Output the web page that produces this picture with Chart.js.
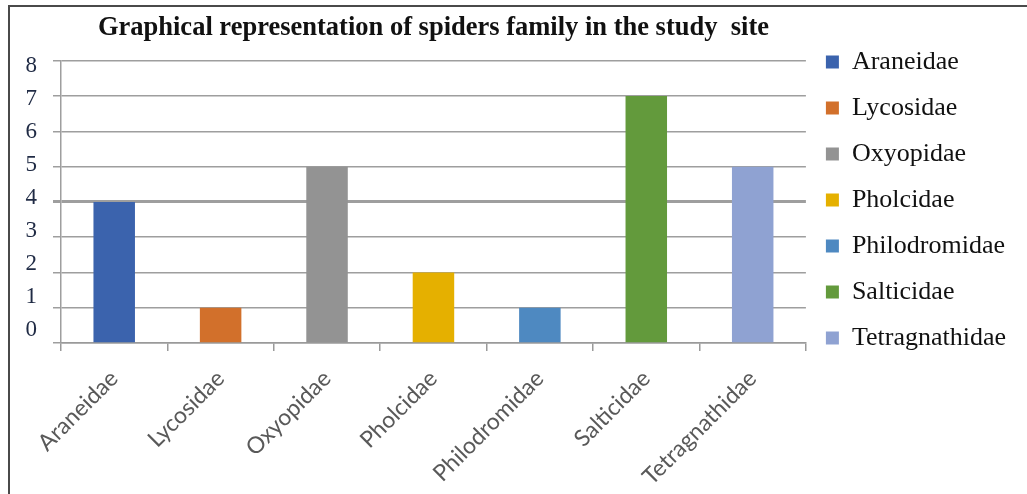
<!DOCTYPE html>
<html>
<head>
<meta charset="utf-8">
<script src="https://cdn.jsdelivr.net/npm/chart.js@4.4.1/dist/chart.umd.min.js"></script>
<style>
  html, body { margin: 0; padding: 0; background: #fff; }
  #wrap { position: relative; width: 1027px; height: 494px; overflow: hidden; }
  #frame { position: absolute; left: 8px; top: 5px; width: 1100px; height: 600px;
           border-left: 2px solid #4a4a4a; border-top: 2px solid #4a4a4a; }
  #chart { position: absolute; left: 0; top: 0; }
</style>
</head>
<body>
<div id="wrap">
  <div id="frame"></div>
  <canvas id="chart" width="1027" height="494"></canvas>
</div>
<script>
const families = ["Araneidae", "Lycosidae", "Oxyopidae", "Pholcidae", "Philodromidae", "Salticidae", "Tetragnathidae"];
const counts = [4, 1, 5, 2, 1, 7, 5];
const barColors = ["#3b63ad", "#d2702b", "#939393", "#e5b000", "#4e89c1", "#639a3c", "#8fa2d2"];
const yTicks = [0, 1, 2, 3, 4, 5, 6, 7, 8];

const serif = "'Liberation Serif', 'Times New Roman', serif";
const ctx = document.getElementById("chart").getContext("2d");

new Chart(ctx, {
  type: "bar",
  data: {
    labels: families,
    datasets: [{
      data: counts,
      backgroundColor: barColors,
      barPercentage: 0.39,
      categoryPercentage: 1
    }]
  },
  options: {
    responsive: false,
    animation: false,
    layout: { padding: { left: 0, top: 0, bottom: 0, right: 11 } },
    plugins: {
      title: {
        display: true,
        fullSize: false,
        text: "Graphical representation of spiders family in the study  site",
        color: "#111",
        font: { family: serif, size: 26.5, weight: "bold", lineHeight: 1.2 },
        padding: { top: 12, bottom: 17 }
      },
      legend: {
        position: "right",
        align: "start",
        maxWidth: 221,
        // empty title only pushes the list down to where the original starts
        title: { display: true, text: "", font: { size: 10, lineHeight: 1 }, padding: { top: 19, bottom: 0 } },
        labels: {
          boxWidth: 13,
          boxHeight: 13,
          padding: 20,
          color: "#111",
          font: { family: serif, size: 26 },
          generateLabels: () => families.map((name, i) => ({
            text: name,
            fillStyle: barColors[i],
            strokeStyle: barColors[i],
            fontColor: "#111",
            lineWidth: 0,
            index: i
          }))
        }
      },
      tooltip: { enabled: false }
    },
    scales: {
      x: {
        grid: { display: true, drawOnChartArea: false, drawTicks: true, tickLength: 8, color: "#9a9a9a", lineWidth: 1.5 },
        border: { display: true, color: "#9a9a9a", width: 1.5 },
        ticks: {
          minRotation: 45, maxRotation: 45,
          padding: 14,
          color: "#595959",
          font: { family: "Lato, 'Open Sans', sans-serif", size: 23 }
        },
        afterFit: s => { s.height = 151; }
      },
      y: {
        min: 0, max: 8,
        weight: 0,
        grid: {
          color: "#9e9e9e",
          lineWidth: c => (c.tick && c.tick.value === 4 ? 3 : 1.5),
          drawTicks: true, tickLength: 8
        },
        border: { display: true, color: "#9e9e9e", width: 1.5 },
        ticks: { display: false, stepSize: 1 },
        afterFit: s => { s.width = 8; }
      },
      // label axis: same values, spaced like the original image's labels
      yl: {
        position: "left",
        weight: 1,
        min: -0.4, max: 8.17,
        grid: { display: false, drawTicks: false },
        border: { display: false },
        ticks: {
          stepSize: 1,
          padding: 16,
          color: "#1f2a44",
          font: { family: serif, size: 23 }
        },
        afterBuildTicks: s => { s.ticks = yTicks.map(v => ({ value: v })); },
        afterFit: s => { s.width = 53; }
      }
    }
  }
});
</script>
</body>
</html>
